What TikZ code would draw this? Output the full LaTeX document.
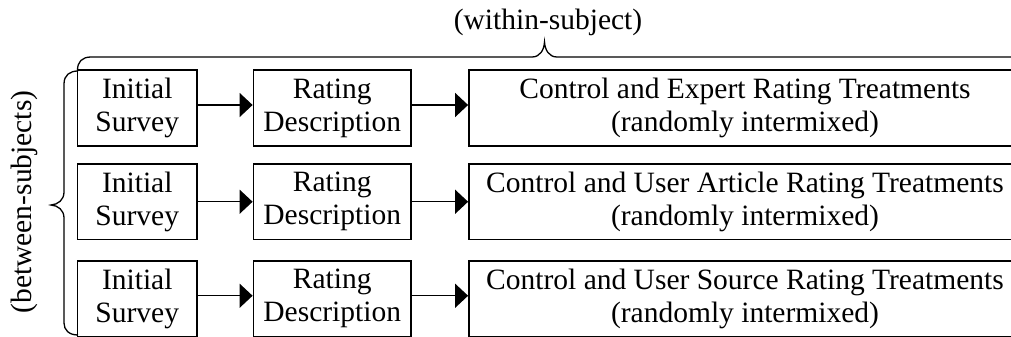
\documentclass[tikz,border=0pt]{standalone}
\usepackage{fontspec}
\setmainfont{Liberation Serif}
\usetikzlibrary{arrows.meta}
\tikzset{
  box/.style={draw, line width=1.8pt, minimum height=75.5pt, inner sep=0pt, align=center,
    font=\fontsize{29.5}{33}\selectfont},
  boxa/.style={box, minimum width=119.5pt},
  boxb/.style={box, minimum width=157.5pt},
  boxc/.style={box, minimum width=552pt},
  arr/.style={line width=1.3pt, -{Triangle[length=13pt, width=24pt]}},
  brace/.style={line width=1.3pt},
  lab/.style={font=\fontsize{29.5}{33}\selectfont, inner sep=0pt}
}
\begin{document}
\begin{tikzpicture}[x=1pt, y=-1pt]
\useasboundingbox (0,0) rectangle (1011,337);
% row 1
\node[boxa] (r1a) at (137.25,108) {Initial\\Survey};
\node[boxb] (r1b) at (332.25,108) {Rating\\Description};
\node[boxc] (r1c) at (745,108) {Control and Expert Rating Treatments\\(randomly intermixed)};
% row 2
\node[boxa] (r2a) at (137.25,201.75) {Initial\\Survey};
\node[boxb] (r2b) at (332.25,201.75) {Rating\\Description};
\node[boxc] (r2c) at (745,201.75) {Control and User Article Rating Treatments\\(randomly intermixed)};
% row 3
\node[boxa] (r3a) at (137.25,298.75) {Initial\\Survey};
\node[boxb] (r3b) at (332.25,298.75) {Rating\\Description};
\node[boxc] (r3c) at (745,298.75) {Control and User Source Rating Treatments\\(randomly intermixed)};
% arrows
\draw[arr] ([yshift=3pt]r1a.east) -- ([yshift=3pt]r1b.west);
\draw[arr] ([yshift=3pt]r1b.east) -- ([yshift=3pt]r1c.west);
\draw[arr] (r2a.east) -- (r2b.west);
\draw[arr] (r2b.east) -- (r2c.west);
\draw[arr] ([yshift=3pt]r3a.east) -- ([yshift=3pt]r3b.west);
\draw[arr] ([yshift=3pt]r3b.east) -- ([yshift=3pt]r3c.west);
% top brace
\draw[brace] (77.5,70) .. controls (77.5,62) and (82,57) .. (91,57) -- (532,57)
  .. controls (540,57) and (544,50) .. (544.5,42)
  .. controls (545,50) and (549,57) .. (557,57) -- (1020,57);
% left brace
\draw[brace] (78,71) .. controls (70,71) and (64,75) .. (64,84) -- (64,192)
  .. controls (64,200) and (58,204.5) .. (51,205)
  .. controls (58,205.5) and (64,210) .. (64,218) -- (64,323)
  .. controls (64,330) and (69,335) .. (78,335);
% labels
\node[lab] (within) at (548,22) {(within-subject)};
\node[lab, rotate=90] (between) at (24,202) {(between-subjects)};
\end{tikzpicture}
\end{document}
